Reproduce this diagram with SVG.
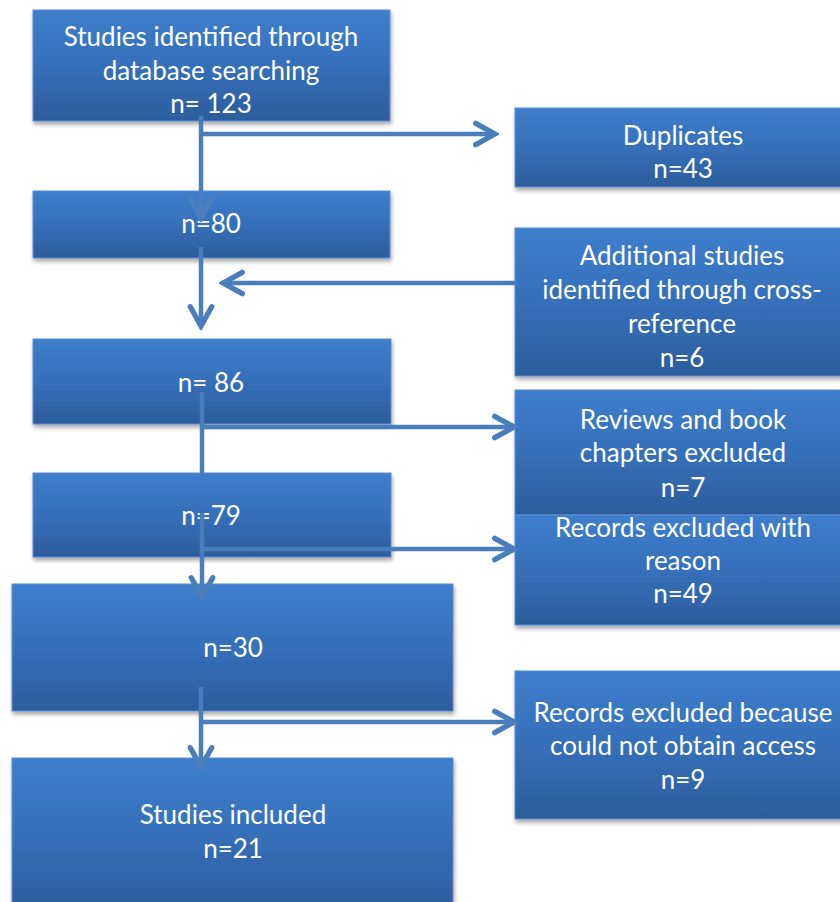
<svg xmlns="http://www.w3.org/2000/svg" width="840" height="902" viewBox="0 0 840 902">
<defs>
<linearGradient id="g" x1="0" y1="0" x2="0" y2="1">
<stop offset="0" stop-color="#3D7ECB"/>
<stop offset="0.5" stop-color="#3570B9"/>
<stop offset="1" stop-color="#2D5C9C"/>
</linearGradient>
<filter id="sh" x="-5%" y="-5%" width="110%" height="120%">
<feDropShadow dx="1" dy="3" stdDeviation="2" flood-color="#000" flood-opacity="0.35"/>
</filter>
<marker id="ah" markerUnits="userSpaceOnUse" markerWidth="30" markerHeight="30" viewBox="-24 -14 28 28" refX="0" refY="0" orient="auto">
<path d="M-18,-10 L0,0 L-18,10" fill="none" stroke="#4A7EBB" stroke-width="5" stroke-linejoin="miter" stroke-linecap="round"/>
</marker>
<style>
.box{fill:url(#g);stroke:#5B8ED2;stroke-width:1;filter:url(#sh)}
.t{font-family:Lato,"Liberation Sans",sans-serif;font-size:26px;fill:#fff;text-anchor:middle}
.c{fill:none;stroke:#4A7EBB;stroke-width:4.5}
</style>
</defs>
<rect width="840" height="902" fill="#fff"/>
<g id="n1"><rect class="box" x="33" y="10" width="357" height="111"/>
<text class="t" x="211" y="46">Studies identified through</text>
<text class="t" x="211" y="80">database searching</text>
<text class="t" x="211" y="113">n= 123</text></g>
<g id="n2"><rect class="box" x="33" y="191" width="357" height="67"/>
<text class="t" x="211" y="233">n=80</text></g>
<g id="n3"><rect class="box" x="33" y="339" width="358" height="85"/>
<text class="t" x="211" y="392">n= 86</text></g>
<g id="n4"><rect class="box" x="33" y="473" width="358" height="84"/>
<text class="t" x="211" y="525">n=79</text></g>
<g id="n5"><rect class="box" x="12" y="584" width="441" height="127"/>
<text class="t" x="233" y="657">n=30</text></g>
<g id="n6"><rect class="box" x="12" y="758" width="441" height="152"/>
<text class="t" x="233" y="824">Studies included</text>
<text class="t" x="233" y="858">n=21</text></g>
<g id="r1"><rect class="box" x="515" y="108" width="335" height="79"/>
<text class="t" x="683" y="145">Duplicates</text>
<text class="t" x="683" y="178">n=43</text></g>
<g id="r2"><rect class="box" x="515" y="228" width="335" height="148"/>
<text class="t" x="682" y="265">Additional studies</text>
<text class="t" x="682" y="299">identified through cross-</text>
<text class="t" x="682" y="333">reference</text>
<text class="t" x="682" y="367">n=6</text></g>
<g id="r3"><rect class="box" x="515" y="390" width="335" height="125"/>
<text class="t" x="683" y="429">Reviews and book</text>
<text class="t" x="683" y="462">chapters excluded</text>
<text class="t" x="683" y="497">n=7</text></g>
<g id="r4"><rect class="box" x="515" y="515" width="335" height="110"/>
<text class="t" x="683" y="537">Records excluded with</text>
<text class="t" x="683" y="570">reason</text>
<text class="t" x="683" y="603">n=49</text></g>
<g id="r5"><rect class="box" x="515" y="671" width="335" height="148"/>
<text class="t" x="683" y="722">Records excluded because</text>
<text class="t" x="683" y="755">could not obtain access</text>
<text class="t" x="683" y="789">n=9</text></g>
<g id="connectors">
<path class="c" d="M201,116 V218" marker-end="url(#ah)"/>
<path class="c" d="M201,134 H495" marker-end="url(#ah)"/>
<path class="c" d="M201,247 V326" marker-end="url(#ah)"/>
<path class="c" d="M515,283 H223" marker-end="url(#ah)"/>
<path class="c" d="M202,392 V473"/>
<path class="c" d="M202,427 H514" marker-end="url(#ah)"/>
<path class="c" d="M202,513 V597" marker-end="url(#ah)"/>
<path class="c" d="M202,549 H514" marker-end="url(#ah)"/>
<path class="c" d="M201,687 V767" marker-end="url(#ah)"/>
<path class="c" d="M201,722 H514" marker-end="url(#ah)"/>
</g>
</svg>
